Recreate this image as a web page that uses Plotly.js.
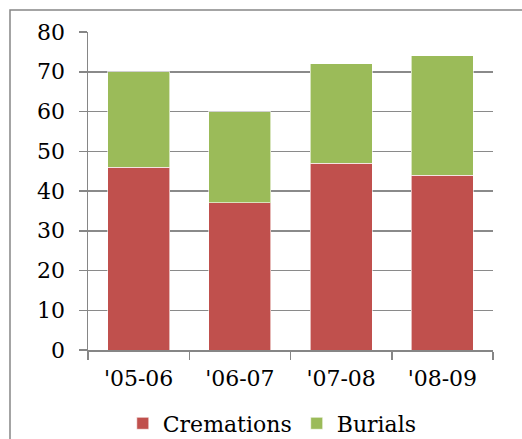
<!DOCTYPE html>
<html>
<head>
<meta charset="utf-8">
<script src="https://cdn.plot.ly/plotly-3.0.1.min.js"></script>
<style>html,body{margin:0;padding:0;background:#fff;}#chart{width:522px;height:439px;}</style>
</head>
<body>
<div id="chart"></div>
<script>
var categories = ["'05-06", "'06-07", "'07-08", "'08-09"];
var cremations = [46, 37, 47, 44];
var burials = [24, 23, 25, 30];
var yTicks = [0, 10, 20, 30, 40, 50, 60, 70, 80];

var font = {family: "DejaVu Serif", size: 22, color: "#000"};

var data = [
  {type: "bar", name: "Cremations", x: categories, y: cremations,
   marker: {color: "#C0504D", line: {color: "rgba(255,255,255,0.6)", width: 1}}},
  {type: "bar", name: "Burials", x: categories, y: burials,
   marker: {color: "#9BBB59", line: {color: "rgba(255,255,255,0.6)", width: 1}}}
];

var layout = {
  width: 522, height: 439,
  margin: {l: 88, r: 29, t: 32, b: 89, autoexpand: false},
  barmode: "stack",
  bargap: 0.39,
  paper_bgcolor: "#fff", plot_bgcolor: "#fff",
  font: font,
  showlegend: true,
  legend: {orientation: "h", x: 0.455, xanchor: "center", y: -0.165, yanchor: "top",
           font: font, traceorder: "normal"},
  xaxis: {type: "category", showline: true, linecolor: "#868686", linewidth: 1.5,
          ticks: "outside", tickson: "boundaries", ticklen: 8, tickcolor: "#868686", tickwidth: 1.5,
          ticklabelstandoff: 8,
          showgrid: false, tickfont: font, fixedrange: true},
  yaxis: {range: [0, 80], tickvals: yTicks, ticks: "outside", ticklen: 8, tickcolor: "#868686", tickwidth: 1.5,
          showline: true, linecolor: "#868686", linewidth: 1.5,
          showgrid: true, gridcolor: "#8a8a8a", gridwidth: 1.5, zeroline: false,
          ticklabelstandoff: 9,
          tickfont: font, fixedrange: true},
  shapes: [
    {type: "rect", xref: "paper", yref: "paper", x0: -0.1926, x1: 1.1, y0: -0.32, y1: 1.069,
     line: {color: "#868686", width: 1.5}, fillcolor: "rgba(0,0,0,0)", layer: "below"}
  ]
};

Plotly.newPlot("chart", data, layout, {displayModeBar: false, staticPlot: true});
</script>
</body>
</html>
